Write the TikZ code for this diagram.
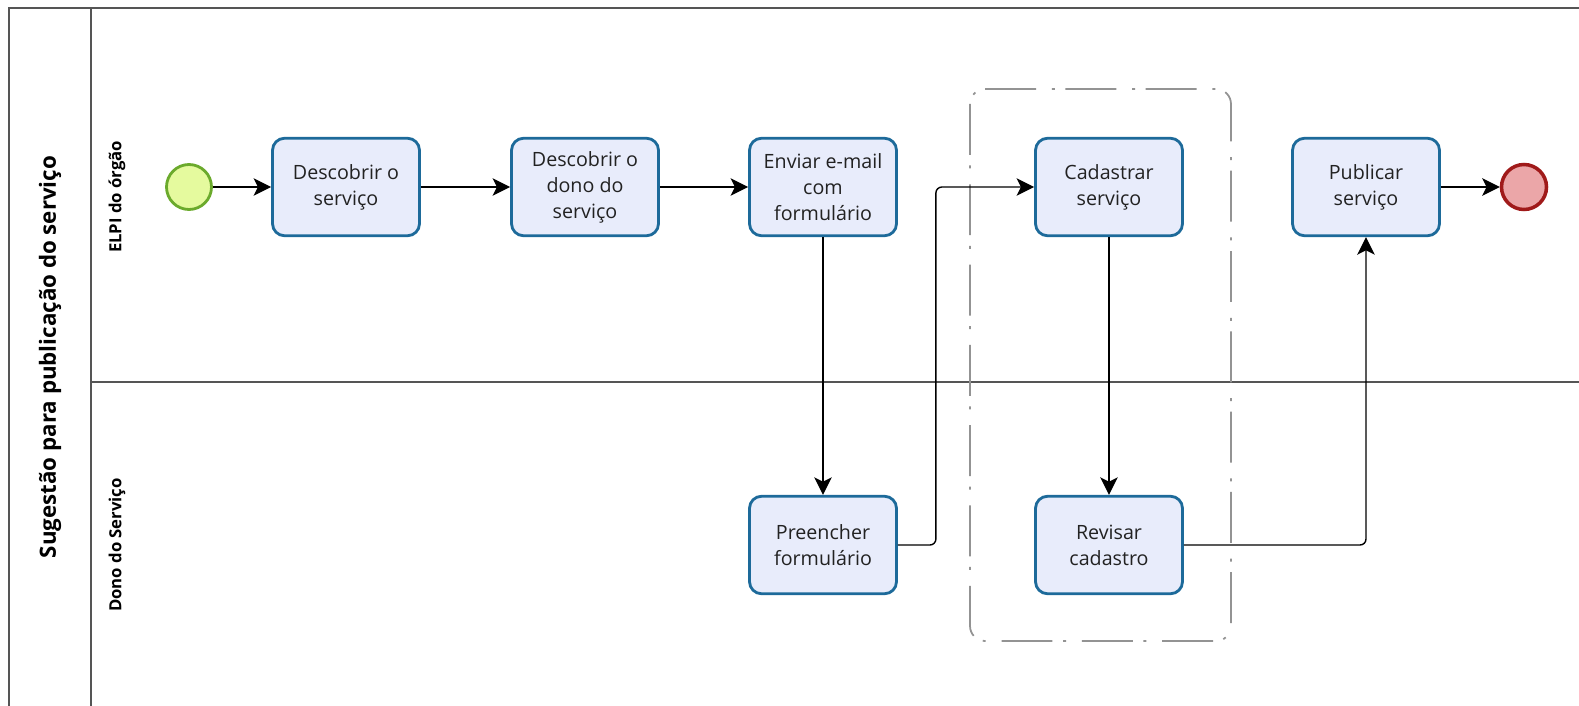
\documentclass[tikz,border=0pt]{standalone}
\usepackage{fontspec}
\setmainfont{Open Sans}
\usepackage{xcolor}
\usetikzlibrary{positioning}
\usetikzlibrary{arrows.meta}

\definecolor{taskfill}{HTML}{E8ECFB}
\definecolor{taskline}{HTML}{1D6A9A}
\definecolor{startfill}{HTML}{E5FA9E}
\definecolor{startline}{HTML}{6BAA2C}
\definecolor{endfill}{HTML}{EBA6A8}
\definecolor{endline}{HTML}{A01A1A}
\definecolor{poolline}{HTML}{555555}
\definecolor{txt}{HTML}{222222}

\tikzset{
    task/.style={draw=taskline,fill=taskfill,line width=1.6pt,rounded corners=0.24cm,
        minimum width=2.94cm,minimum height=1.95cm,align=center,text=txt,
        font=\fontsize{11.2}{14.8}\selectfont},
    startev/.style={circle,draw=startline,fill=startfill,line width=1.6pt,minimum size=0.9cm},
    endev/.style={circle,draw=endline,fill=endfill,line width=2pt,minimum size=0.9cm},
    flow/.style={line width=0.8pt,-{Stealth[length=10pt,width=10pt,inset=2.5pt]},rounded corners=0.12cm},
    lane/.style={rotate=90,font=\bfseries\fontsize{9.5}{11}\selectfont,text=black},
}

\begin{document}
\begin{tikzpicture}[x=0.02cm,y=-0.02cm]
        \useasboundingbox (0,0) rectangle (1579,706);
        % pool and lanes
        \draw[poolline,line width=0.9pt] (1579,8) -- (9,8) -- (9,706);
        \draw[poolline,line width=0.8pt] (91,8) -- (91,706);
        \draw[poolline,line width=0.8pt] (91,382) -- (1579,382);
        \node[lane,font=\bfseries\fontsize{12.7}{14}\selectfont] (titulo) at (50,357) {Sugestão para publicação do serviço};
        \node[lane] (orgao) at (117,197) {ELPI do órgão};
        \node[lane] (donoserv) at (117,545) {Dono do Serviço};
        % group
        \draw[gray!85,line width=1pt,rounded corners=0.3cm,
            dash pattern=on 29pt off 6pt on 1.7pt off 9pt] (970,89) rectangle (1231,641);
        % events and tasks
        \node[startev] (inicio) at (189,187) {};
        \node[task] (descobrir) at (346,187) {Descobrir o\\serviço};
        \node[task] (dono) at (585,187) {Descobrir o\\dono do\\serviço};
        \node[task] (enviar) at (823,187) {Enviar e-mail\\com\\formulário};
        \node[task] (cadastrar) at (1109,187) {Cadastrar\\serviço};
        \node[task] (publicar) at (1366,187) {Publicar\\serviço};
        \node[endev] (fim) at (1524,187) {};
        \node[task] (preencher) at (823,545) {Preencher\\formulário};
        \node[task] (revisar) at (1109,545) {Revisar\\cadastro};
        % flows
        \draw[flow] (inicio) -- (descobrir);
        \draw[flow] (descobrir) -- (dono);
        \draw[flow] (dono) -- (enviar);
        \draw[flow] (enviar) -- (preencher);
        \draw[flow] (preencher.east) -- ++(38,0) |- (cadastrar.west);
        \draw[flow] (cadastrar) -- (revisar);
        \draw[flow] (revisar.east) -| (publicar.south);
        \draw[flow] (publicar) -- (fim);
    \end{tikzpicture}
\end{document}
